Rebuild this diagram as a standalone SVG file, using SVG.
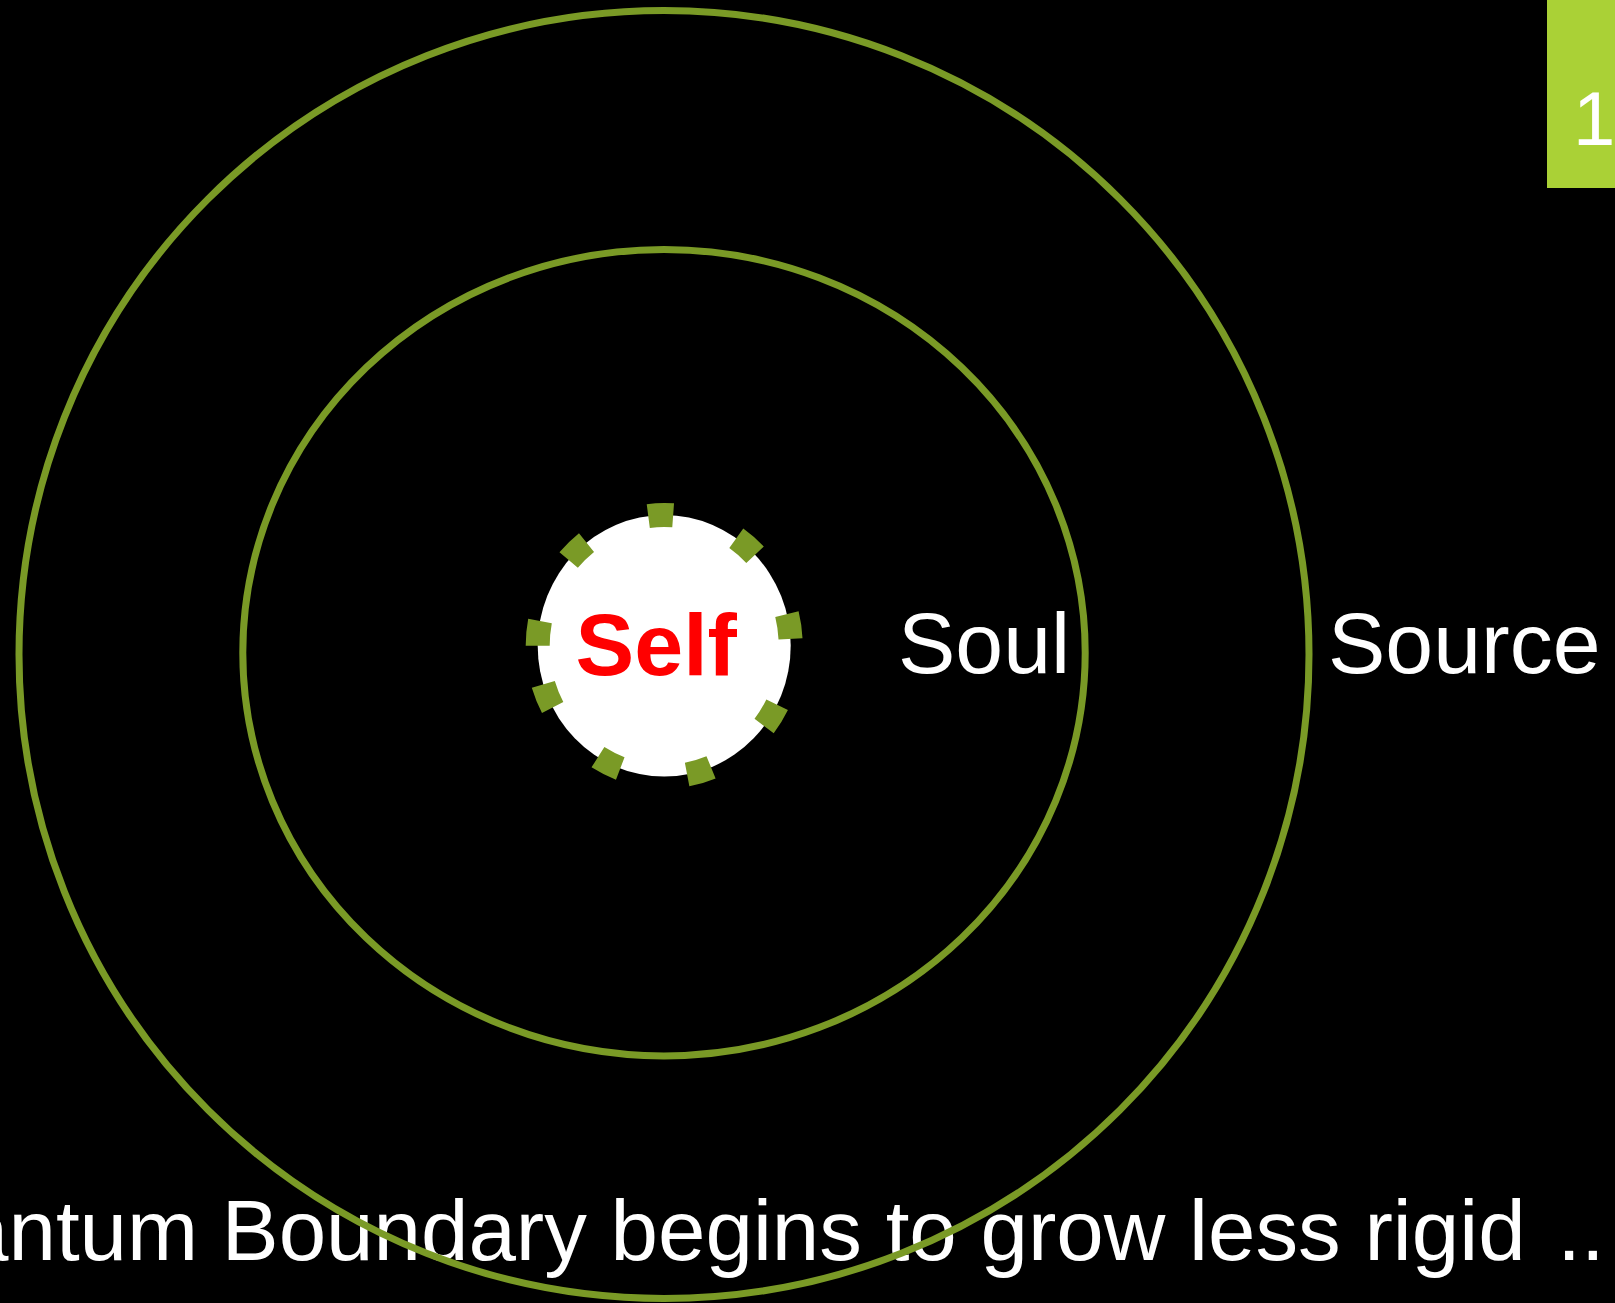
<svg xmlns="http://www.w3.org/2000/svg" width="1615" height="1303" viewBox="0 0 1615 1303">
  <style>
    .ring { fill: none; stroke: #7A9A26; stroke-width: 7; }
    .label { font-family: "Liberation Sans", Arial, sans-serif; fill: #FFFFFF; }
    .boundary { fill: none; stroke: #7A9A26; stroke-width: 24; stroke-dasharray: 25 68; }
  </style>
  <rect x="0" y="0" width="1615" height="1303" fill="#000000"/>

  <g id="caption">
    <text class="label" x="-39" y="1260" font-size="85.3">antum Boundary begins to grow less rigid<tspan dx="8"> ..</tspan></text>
  </g>

  <g id="node-source">
    <ellipse class="ring" cx="664" cy="654.5" rx="645" ry="644"/>
    <text class="label" x="1328" y="673" font-size="86">Source</text>
  </g>

  <g id="node-soul">
    <ellipse class="ring" cx="664" cy="652.7" rx="421.2" ry="403.2"/>
    <text class="label" x="898" y="673" font-size="86">Soul</text>
  </g>

  <g id="node-self">
    <ellipse cx="664.2" cy="645.8" rx="126.5" ry="130.8" fill="#FFFFFF"/>
    <path class="boundary" d="M 537.7,645.8 A 126.5,130.8 0 1 1 790.7,645.8 A 126.5,130.8 0 1 1 537.7,645.8"/>
    <text x="575.5" y="675" font-family="'Liberation Sans', Arial, sans-serif" font-weight="bold" font-size="88" fill="#FF0000">Self</text>
  </g>

  <g id="slide-number">
    <rect x="1547" y="0" width="68" height="188" fill="#AAD136"/>
    <text class="label" x="1573" y="145" font-size="76">1</text>
  </g>

  <g id="connectors"></g>
</svg>
